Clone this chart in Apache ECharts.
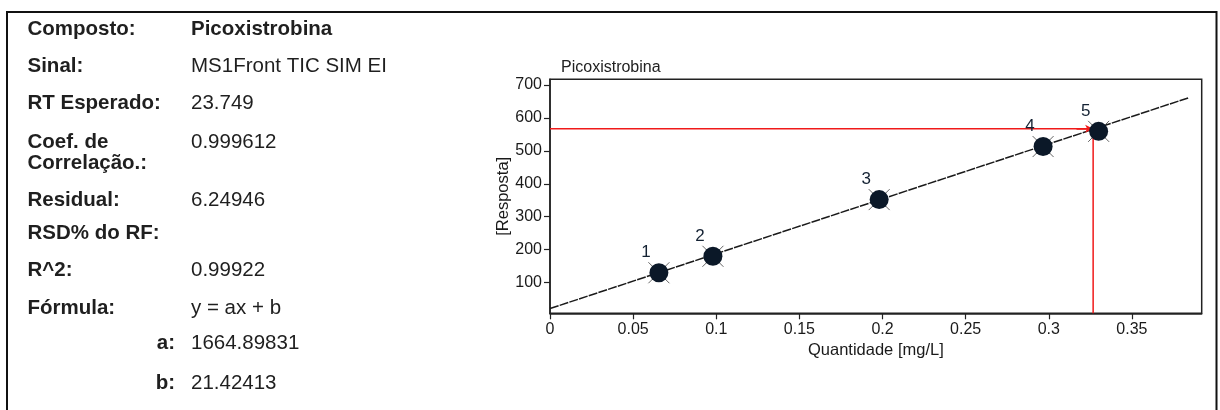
<!DOCTYPE html>
<html>
<head>
<meta charset="utf-8">
<script src="https://cdn.jsdelivr.net/npm/echarts@6/dist/echarts.min.js"></script>
<style>
html,body{margin:0;padding:0;background:#fff;}
#c{width:1220px;height:410px;}
</style>
</head>
<body>
<div id="c"></div>
<script>
// ---- data ----
const levels = ['1', '2', '3', '4', '5'];
const quantidade = [0.0655, 0.098, 0.198, 0.2966, 0.330];
const resposta = [130, 180, 352, 513, 559];
const fitX = [0, 0.384];
const fitY = [21.4, 660.7];
const sampleX = 0.3267;
const sampleY = 567;
const xTicks = [0, 0.05, 0.1, 0.15, 0.2, 0.25, 0.3, 0.35];
const yTicks = [100, 200, 300, 400, 500, 600, 700];
const infoLabels = ['Composto:', 'Sinal:', 'RT Esperado:', 'Coef. de\nCorrelação.:', 'Residual:', 'RSD% do RF:', 'R^2:', 'Fórmula:'];
const infoValues = ['Picoxistrobina', 'MS1Front TIC SIM EI', '23.749', '0.999612', '6.24946', '', '0.99922', 'y = ax + b'];
const coefLabels = ['a:', 'b:'];
const coefValues = ['1664.89831', '21.42413'];

// ---- layout ----
const FF = '"Liberation Sans", Arial, sans-serif';
const TXT = '#1f1f1f';
const rowY = [29.3, 66.7, 103.3, 142.7, 200.7, 233.3, 270.7, 308.3];
const coefY = [343.3, 383.3];
const yMin = 7, yMax = 717;

const graphics = [{
  type: 'rect', silent: true, z: 0,
  shape: { x: 7, y: 12, width: 1209.5, height: 420 },
  style: { fill: 'none', stroke: '#111', lineWidth: 2 }
}];
infoLabels.forEach((t, i) => {
  const multi = t.indexOf('\n') >= 0;
  graphics.push({
    type: 'text', silent: true,
    x: 27.5, y: multi ? rowY[i] - 10.5 : rowY[i],
    style: { text: t, fill: TXT, font: 'bold 20.5px ' + FF,
      textVerticalAlign: multi ? 'top' : 'middle', lineHeight: 20.6 }
  });
  if (infoValues[i]) {
    graphics.push({
      type: 'text', silent: true, x: 191, y: rowY[i],
      style: { text: infoValues[i], fill: TXT,
        font: (i === 0 ? 'bold ' : '') + '20.5px ' + FF, textVerticalAlign: 'middle' }
    });
  }
});
coefLabels.forEach((t, i) => {
  graphics.push({
    type: 'text', silent: true, x: 175, y: coefY[i],
    style: { text: t, fill: TXT, font: 'bold 20.5px ' + FF, textAlign: 'right', textVerticalAlign: 'middle' }
  });
  graphics.push({
    type: 'text', silent: true, x: 191, y: coefY[i],
    style: { text: coefValues[i], fill: TXT, font: '20.5px ' + FF, textVerticalAlign: 'middle' }
  });
});

const pts = quantidade.map((x, i) => ({ value: [x, resposta[i]], name: levels[i] }));

const chart = echarts.init(document.getElementById('c'), null, { renderer: 'canvas' });
chart.setOption({
  animation: false,
  backgroundColor: '#fff',
  textStyle: { fontFamily: FF },
  title: {
    text: 'Picoxistrobina', left: 556, top: 55,
    textStyle: { fontSize: 16, fontWeight: 'normal', color: '#222', fontFamily: FF }
  },
  grid: {
    left: 550, top: 79.3, right: 18.3, bottom: 96.7,
    show: true, borderColor: '#222', borderWidth: 1.5, backgroundColor: 'transparent'
  },
  xAxis: {
    type: 'value', min: 0, max: 0.392,
    name: 'Quantidade [mg/L]', nameLocation: 'middle', nameGap: 27,
    nameTextStyle: { fontSize: 16.5, color: '#1a1a1a', fontFamily: FF },
    axisLine: { lineStyle: { color: '#222', width: 1.5 } },
    axisTick: { show: true, length: 6, customValues: xTicks, lineStyle: { color: '#222', width: 1.2 } },
    axisLabel: { customValues: xTicks, formatter: v => String(v), fontSize: 16, color: '#1a1a1a', margin: 8, fontFamily: FF },
    splitLine: { show: false }
  },
  yAxis: {
    type: 'value', min: yMin, max: yMax,
    name: '[Resposta]', nameLocation: 'middle', nameGap: 38, nameRotate: 90,
    nameMoveOverlap: false,
    nameTextStyle: { fontSize: 16.5, color: '#1a1a1a', fontFamily: FF },
    axisLine: { show: true, lineStyle: { color: '#222', width: 1.5 } },
    axisTick: { show: true, length: 6, customValues: yTicks, lineStyle: { color: '#222', width: 1.2 } },
    axisLabel: { customValues: yTicks, fontSize: 16, color: '#1a1a1a', margin: 8, fontFamily: FF },
    splitLine: { show: false }
  },
  series: [
    {
      type: 'line', data: fitX.map((x, i) => [x, fitY[i]]),
      symbol: 'none', silent: true, z: 2,
      lineStyle: { color: '#1a1a1a', width: 1.5, type: [9, 1.2] }
    },
    {
      type: 'line', data: [[0, sampleY], [sampleX, sampleY], [sampleX, yMin]],
      symbol: 'none', silent: true, z: 3,
      lineStyle: { color: '#f01a1a', width: 1.5 },
      markLine: {
        silent: true, symbol: ['none', 'arrow'], symbolSize: [6, 8],
        label: { show: false },
        lineStyle: { color: '#f01a1a', width: 1.5, type: 'solid' },
        data: [[{ coord: [sampleX - 0.01, sampleY] }, { coord: [sampleX, sampleY] }]]
      }
    },
    {
      type: 'scatter', data: pts, silent: true, z: 4,
      symbol: 'path://M0,0L10,10M10,0L0,10', symbolSize: 21,
      itemStyle: { color: 'none', borderColor: '#666', borderWidth: 1, opacity: 1 }
    },
    {
      type: 'scatter', data: pts, silent: true, z: 5,
      symbol: 'circle', symbolSize: 19,
      itemStyle: { color: '#0b1828', opacity: 1 },
      label: {
        show: true, formatter: '{b}', position: 'inside', offset: [-13, -20],
        fontSize: 17, color: '#142233', opacity: 1, fontFamily: FF
      }
    }
  ],
  graphic: graphics
});
</script>
</body>
</html>
